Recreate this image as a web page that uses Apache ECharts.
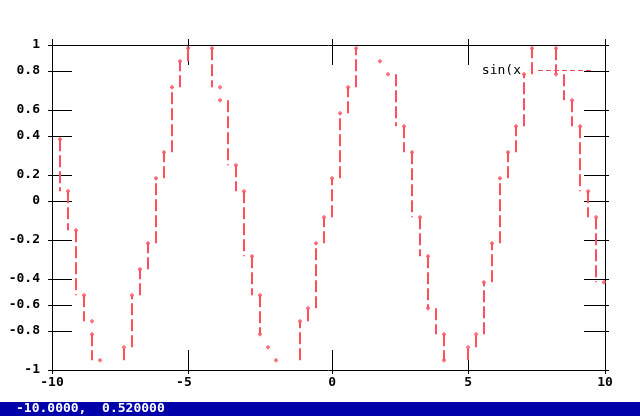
<!DOCTYPE html>
<html><head><meta charset="utf-8">
<script src="https://cdn.jsdelivr.net/npm/echarts@6/dist/echarts.min.js"></script>
<style>html,body{margin:0;padding:0;background:#fff}#c{width:640px;height:416px}</style>
</head><body><div id="c"></div>
<script>
// ---- data ----
const seriesName = 'sin(x';
const xValues = [-9.71,-9.42,-9.13,-8.84,-8.55,-8.55,-8.26,
  -7.40,-7.11,-6.82,-6.53,-6.24,-5.95,-5.66,-5.37,-5.08,
  -4.21,-3.92,-3.92,-3.35,-3.06,-2.77,-2.48,-2.48,-2.19,-1.90,
  -1.03,-0.74,-0.45,-0.16,0.13,0.42,0.71,1.00,
  1.86,2.15,2.73,3.02,3.31,3.60,3.60,4.18,4.18,
  5.05,5.34,5.62,5.91,6.20,6.49,6.78,7.07,7.36,
  8.23,8.23,8.81,9.10,9.39,9.68,9.96];
const yValues = [0.42,0.10,-0.14,-0.54,-0.70,-0.78,-0.94,
  -0.86,-0.54,-0.38,-0.22,0.18,0.34,0.74,0.90,0.98,
  0.98,0.74,0.66,0.26,0.10,-0.30,-0.54,-0.78,-0.86,-0.94,
  -0.70,-0.62,-0.22,-0.06,0.18,0.58,0.74,0.98,
  0.90,0.82,0.50,0.34,-0.06,-0.30,-0.62,-0.78,-0.94,
  -0.86,-0.78,-0.46,-0.22,0.18,0.34,0.50,0.82,0.98,
  0.98,0.82,0.66,0.50,0.10,-0.06,-0.46];
const xTickValues = [-10, -5.08, 0.13, 5.05, 10];
const xLabelValues = [-10, -5.23, 0.13, 5.05, 10];
const xTickLabels = ['-10', '-5', '0', '5', '10'];
const yTickValues = [1, 0.84, 0.6, 0.44, 0.2, 0.04, -0.2, -0.44, -0.6, -0.76, -1];
const yTickLabels = ['1', '0.8', '0.6', '0.4', '0.2', '0', '-0.2', '-0.4', '-0.6', '-0.8', '-1'];
const statusText = '-10.0000,  0.520000';

// ---- styling ----
const RED = '#ff5060';
const MONO = '"DejaVu Sans Mono", "Liberation Mono", monospace';
function pick(vals, labels) {
  return function (v) {
    let best = 0;
    for (let i = 1; i < vals.length; i++) if (Math.abs(vals[i] - v) < Math.abs(vals[best] - v)) best = i;
    return labels[best];
  };
}
const labelStyle = { color: '#000', fontFamily: MONO, fontWeight: 'bold', fontSize: 13 };
function xAx(pos, inside, len, showLine, showLabel) {
  return {
    type: 'value', min: -10, max: 10, position: pos, gridIndex: 0,
    axisLine: { show: showLine, onZero: false, lineStyle: { color: '#000', width: 1 } },
    splitLine: { show: false },
    axisTick: { show: true, inside: inside, length: len, customValues: xTickValues, lineStyle: { color: '#000', width: 1 } },
    axisLabel: Object.assign({ show: showLabel, customValues: xLabelValues, margin: 6,
      formatter: pick(xLabelValues, xTickLabels) }, labelStyle)
  };
}
function yAx(pos, inside, len, showLine, showLabel) {
  return {
    type: 'value', min: -1, max: 1, position: pos, gridIndex: 0,
    axisLine: { show: showLine, onZero: false, lineStyle: { color: '#000', width: 1 } },
    splitLine: { show: false },
    axisTick: { show: true, inside: inside, length: len, customValues: yTickValues, lineStyle: { color: '#000', width: 1 } },
    axisLabel: Object.assign({ show: showLabel, customValues: yTickValues, margin: 12,
      formatter: pick(yTickValues, yTickLabels) }, labelStyle)
  };
}
// dashed legend sample
let dashPath = 'path://M0,0';
for (let i = 0; i < 7; i++) dashPath += ' M' + (i * 8) + ',0h5v1h-5z';

const points = xValues.map((x, i) => [x, yValues[i]]);
const chart = echarts.init(document.getElementById('c'), null, { renderer: 'canvas' });
chart.setOption({
  animation: false,
  backgroundColor: '#fff',
  color: [RED],
  grid: { left: 52, right: 35, top: 45, bottom: 46, containLabel: false },
  legend: {
    show: true, selectedMode: false, right: 49, top: 64, padding: 0, align: 'right',
    itemWidth: 53, itemHeight: 1, itemGap: 0,
    data: [{ name: seriesName, icon: dashPath }],
    formatter: '{a|{name}}',
    textStyle: { color: '#000', fontFamily: MONO, fontSize: 13,
      rich: { a: { fontFamily: MONO, fontSize: 13, color: '#000', padding: [0, 12, 0, 0] } } }
  },
  xAxis: [xAx('bottom', true, 20, true, true), xAx('bottom', false, 4, false, false),
          xAx('top', true, 20, true, false), xAx('top', false, 6, false, false)],
  yAxis: [yAx('left', true, 20, true, true), yAx('left', false, 4, false, false),
          yAx('right', true, 21, true, false), yAx('right', false, 4, false, false)],
  series: [
    {
      name: seriesName, type: 'custom', coordinateSystem: 'cartesian2d',
      xAxisIndex: 0, yAxisIndex: 0, itemStyle: { color: RED },
      encode: { x: 0, y: 1 }, data: points, silent: true,
      renderItem: function (params, api) {
        const i = params.dataIndex;
        if (i === 0) return null;
        const p0 = api.coord([xValues[i - 1], yValues[i - 1]]);
        const p1 = api.coord([xValues[i], yValues[i]]);
        const dy = p1[1] - p0[1];
        let x;
        if (dy < 0) x = p1[0];
        else { if (dy <= 14) return null; x = Math.max(p0[0], p1[0] - 8); }
        x = Math.round(x);
        return { type: 'line', shape: { x1: x, y1: p0[1], x2: x, y2: p1[1] },
          style: { stroke: RED, lineWidth: 2, lineDash: [12, 4], fill: null } };
      }
    },
    {
      name: 'points', type: 'scatter', xAxisIndex: 0, yAxisIndex: 0, silent: true,
      symbol: 'path://M1,0H3V1H4V3H3V4H1V3H0V1H1Z', symbolSize: [4, 4],
      itemStyle: { color: RED }, data: points
    }
  ],
  graphic: [
    { type: 'rect', left: 0, top: 402, shape: { width: 640, height: 14 }, style: { fill: '#0000aa' }, silent: true },
    { type: 'text', left: 16, top: 402, silent: true,
      style: { text: statusText, fill: '#fff', fontFamily: MONO, fontWeight: 'bold', fontSize: 13 } }
  ]
});
</script></body></html>
